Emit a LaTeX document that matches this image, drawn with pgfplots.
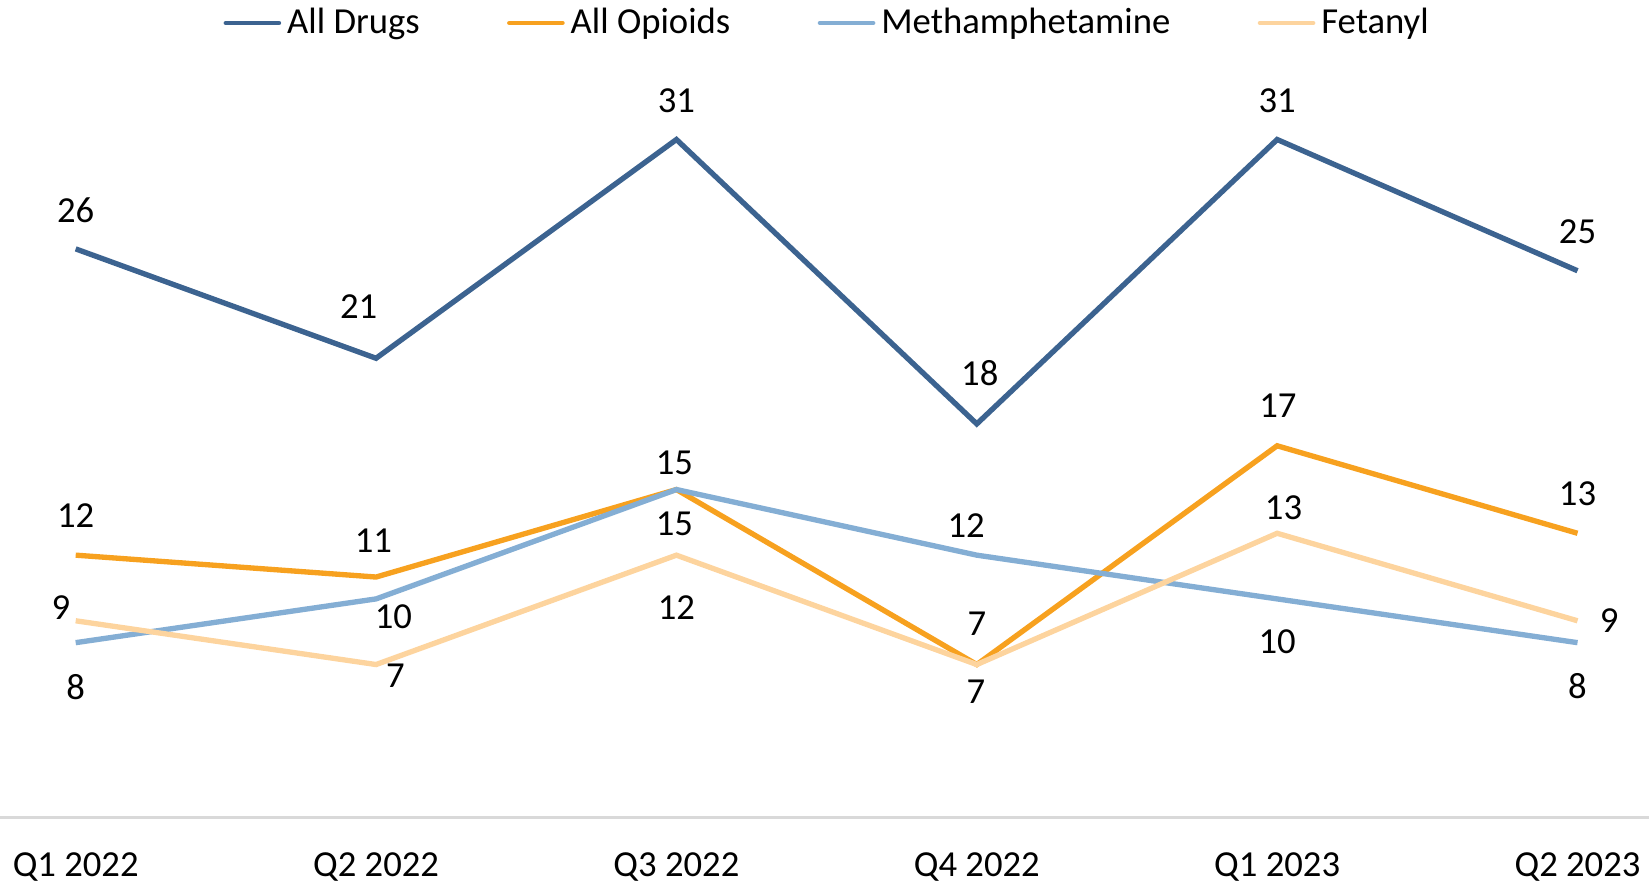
\documentclass[border=0pt]{standalone}
\usepackage{fontspec}
\setmainfont{Carlito}
\usepackage{pgfplots}
\usepackage{pgfplotstable}
\pgfplotsset{compat=1.18}

\definecolor{cDrugs}{HTML}{3C6390}
\definecolor{cOpi}{HTML}{F7A11F}
\definecolor{cMeth}{HTML}{84AED4}
\definecolor{cFen}{HTML}{FDD49E}

% x y dx dy  (dx, dy = label offset in pt)
\pgfplotstableread{
x y  dx   dy
0 26 0    11.6
1 21 -5.2 15.4
2 31 0    11.6
3 18 0.9  15.1
4 31 0    11.6
5 25 0    11.8
}\drugs
\pgfplotstableread{
x y  dx   dy
0 12 0    12.0
1 11 -0.8 10.9
2 15 -0.6 8.0
3 7  0    12.3
4 17 0.2  12.0
5 13 0    12.0
}\opioids
\pgfplotstableread{
x y  dx   dy
0 8  0    -13.2
1 10 5.2  -5.2
2 15 -0.6 -10.3
3 12 -3.2 8.8
4 10 0    -12.8
5 8  0    -12.9
}\meth
\pgfplotstableread{
x y  dx   dy
0 9  -4.4 3.9
1 7  5.8  -3.5
2 12 0    -15.8
3 7  -0.3 -8.2
4 13 1.9  7.6
5 9  9.5  0
}\fent

\pgfplotsset{
  lbl/.style={
    line width=1.6pt, mark=none,
    nodes near coords,
    point meta=explicit,
    /pgf/number format/assume math mode=true,
    visualization depends on={\thisrow{dx} \as \dx},
    visualization depends on={\thisrow{dy} \as \dy},
    every node near coord/.style={anchor=center, text=black, inner sep=0pt,
      font=\fontsize{11}{13}\selectfont, xshift=\dx, yshift=\dy},
  },
}

\begin{document}
\begin{tikzpicture}
\begin{axis}[
    scale only axis,
    width=494.7pt, height=229.7pt,
    xmin=-0.252, xmax=5.238,
    ymin=0, ymax=35,
    axis x line=bottom,
    axis y line=none,
    x axis line style={draw=black!15, line width=0.9pt, -},
    xtick={0,...,5},
    xticklabels={Q1 2022, Q2 2022, Q3 2022, Q4 2022, Q1 2023, Q2 2023},
    major tick length=0pt,
    xticklabel style={font=\fontsize{11}{13}\selectfont, yshift=-7pt},
    clip=false,
    legend columns=4,
    legend style={draw=none, fill=none, at={(0.503,1)}, anchor=center, yshift=8.7pt,
      font=\fontsize{11}{13}\selectfont, inner sep=0pt,
      /tikz/every odd column/.append style={column sep=-0.2pt},
      /tikz/every even column/.append style={column sep=24.2pt}},
    legend image code/.code={\draw[line width=1.3pt, line cap=round] (0pt,0pt) -- (16pt,0pt);},
]
\addplot[cDrugs, lbl] table[x=x, y=y, meta=y] {\drugs};
\addlegendentry{All Drugs}
\addplot[cOpi, lbl] table[x=x, y=y, meta=y] {\opioids};
\addlegendentry{All Opioids}
\addplot[cMeth, lbl] table[x=x, y=y, meta=y] {\meth};
\addlegendentry{Methamphetamine}
\addplot[cFen, lbl] table[x=x, y=y, meta=y] {\fent};
\addlegendentry{Fetanyl}
\end{axis}
\pgfresetboundingbox
\path[use as bounding box] ([yshift=-19.9pt]current axis.south west) rectangle ([yshift=15.6pt]current axis.north east);
\end{tikzpicture}
\end{document}
